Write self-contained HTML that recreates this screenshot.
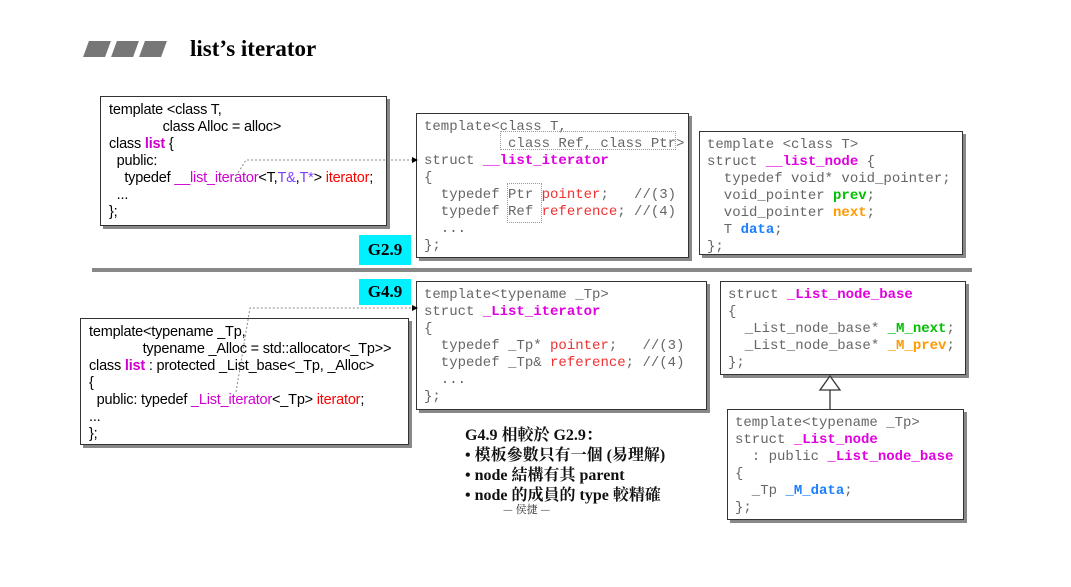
<!DOCTYPE html>
<html><head><meta charset="utf-8"><style>
body{margin:0;width:1071px;height:587px;background:#fff;position:relative;overflow:hidden;font-family:"Liberation Sans",sans-serif}
.b{position:absolute;border:1.5px solid #333;background:#fff;box-shadow:3px 3px 0 #888;box-sizing:border-box}
.m{font-family:"Liberation Mono",monospace;font-size:14px;line-height:17px;color:#666;white-space:pre;padding:5px 7px}
.s{font-size:14.5px;line-height:17px;color:#000;white-space:pre;padding:5px 8px;letter-spacing:-0.2px}
.mg{color:#e000e0;font-weight:bold}.rd{color:#f03030}.gr{color:#00c000;font-weight:bold}.or{color:#ff9900;font-weight:bold}.bl{color:#1a7fff;font-weight:bold}
.pm{color:#d000d0}.pu{color:#8040ff}.r2{color:#f00}
.tag{position:absolute;background:#00f0ff;font-family:"Liberation Serif",serif;font-weight:bold;font-size:17px;text-align:center}
</style></head><body>
<div style="position:absolute;left:82px;top:41px;width:90px;height:16px">
<div style="position:absolute;left:4px;width:22px;height:16px;background:#777;transform:skewX(-20deg)"></div>
<div style="position:absolute;left:32px;width:22px;height:16px;background:#777;transform:skewX(-20deg)"></div>
<div style="position:absolute;left:60px;width:22px;height:16px;background:#777;transform:skewX(-20deg)"></div>
</div>
<div style="position:absolute;left:190px;top:36px;font-family:'Liberation Serif',serif;font-weight:bold;font-size:23px">list’s iterator</div>

<div class="b s" style="left:100px;top:96px;width:287px;height:130px">template &lt;class T,
              class Alloc = alloc&gt;
class <span class="pm" style="font-weight:bold">list</span> {
  public:
    typedef <span class="pm">__list_iterator</span>&lt;T,<span class="pu">T&amp;</span>,<span class="pu">T*</span>&gt; <span class="r2">iterator</span>;
  ...
};</div>

<div class="b m" style="left:416px;top:113px;width:273px;height:145px">template&lt;class T,
          class Ref, class Ptr&gt;
struct <span class="mg">__list_iterator</span>
{
  typedef Ptr <span class="rd">pointer</span>;   //(3)
  typedef Ref <span class="rd">reference</span>; //(4)
  ...
};</div>
<div style="position:absolute;left:500px;top:131px;width:174px;height:17px;border:1px dotted #999"></div>
<div style="position:absolute;left:507px;top:183px;width:33px;height:38px;border:1px dotted #999"></div>

<div class="b m" style="left:699px;top:131px;width:264px;height:124px">template &lt;class T&gt;
struct <span class="mg">__list_node</span> {
  typedef void* void_pointer;
  void_pointer <span class="gr">prev</span>;
  void_pointer <span class="or">next</span>;
  T <span class="bl">data</span>;
};</div>

<div class="tag" style="left:359px;top:235px;width:52px;height:30px;line-height:30px">G2.9</div>
<div style="position:absolute;left:92px;top:268px;width:880px;height:4px;background:#888"></div>
<div class="tag" style="left:359px;top:279px;width:52px;height:26px;line-height:26px">G4.9</div>

<div class="b m" style="left:416px;top:281px;width:291px;height:129px">template&lt;typename _Tp&gt;
struct <span class="mg">_List_iterator</span>
{
  typedef _Tp* <span class="rd">pointer</span>;   //(3)
  typedef _Tp&amp; <span class="rd">reference</span>; //(4)
  ...
};</div>

<div class="b s" style="left:80px;top:318px;width:329px;height:127px">template&lt;typename _Tp,
              typename _Alloc = std::allocator&lt;_Tp&gt;&gt;
class <span class="pm" style="font-weight:bold">list</span> : protected _List_base&lt;_Tp, _Alloc&gt;
{
  public: typedef <span class="pm">_List_iterator</span>&lt;_Tp&gt; <span class="r2">iterator</span>;
...
};</div>

<div class="b m" style="left:720px;top:281px;width:246px;height:94px">struct <span class="mg">_List_node_base</span>
{
  _List_node_base* <span class="gr">_M_next</span>;
  _List_node_base* <span class="or">_M_prev</span>;
};</div>

<div class="b m" style="left:727px;top:409px;width:237px;height:111px">template&lt;typename _Tp&gt;
struct <span class="mg">_List_node</span>
  : public <span class="mg">_List_node_base</span>
{
  _Tp <span class="bl">_M_data</span>;
};</div>

<svg style="position:absolute;left:0;top:0" width="1071" height="587">
<polyline points="236,176 246,160 412,160" fill="none" stroke="#888" stroke-dasharray="2,2"/>
<polygon points="412,157 418,160 412,163" fill="#000"/>
<polyline points="236,392 250,308 412,308" fill="none" stroke="#888" stroke-dasharray="2,2"/>
<polygon points="412,305 418,308 412,311" fill="#000"/>
<polygon points="830,376 820,390 840,390" fill="#fff" stroke="#333" stroke-width="1.3"/>
<line x1="830" y1="390" x2="830" y2="409" stroke="#333" stroke-width="1.3"/>
</svg>

<div style="position:absolute;left:465px;top:426px;font-family:'Liberation Serif','Noto Serif CJK SC',serif;font-weight:bold;font-size:16px;line-height:20px;color:#111">G4.9 相較於 G2.9：<br>• 模板參數只有一個 (易理解)<br>• node 結構有其 parent<br>• node 的成員的 type 較精確</div>
<div style="position:absolute;left:503px;top:501px;font-family:'Noto Serif CJK SC',serif;font-size:11px;color:#333">— 侯捷 —</div>
</body></html>
